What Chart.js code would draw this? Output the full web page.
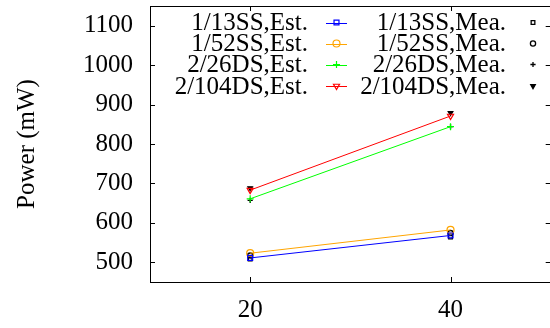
<!DOCTYPE html>
<html lang="en">

<head>
  <meta charset="UTF-8" />
  <title>Power (mW)</title>
  <script src="https://cdn.jsdelivr.net/npm/chart.js"></script>
  <style>
    html, body { margin: 0; padding: 0; background: #fff; overflow: hidden; }
    .wrap { width: 556px; height: 328px; }
  </style>
</head>

<body>
  <div class="wrap">
    <canvas id="powerChart" width="556" height="328"></canvas>
  </div>

  <script>
    // x positions and axis ticks
    const xValues = [20, 40];
    const xTicks = [20, 40];
    const yTicks = [500, 600, 700, 800, 900, 1000, 1100];

    // estimated power
    const est13SS = [511, 568];
    const est52SS = [523, 582];
    const est26DS = [661, 844];
    const est104DS = [683, 871];

    // measured power
    const mea13SS = [508, 564];
    const mea52SS = [517, 574];
    const mea26DS = [657, 844];
    const mea104DS = [688, 879];

    const FONT = "'Liberation Serif', 'Times New Roman', serif";
    const FSIZE = 25;

    function toPoints(ys) {
      return xValues.map((x, i) => ({ x: x, y: ys[i] }));
    }

    function estSet(label, ys, color, style, rot) {
      return {
        label: label,
        data: toPoints(ys),
        borderColor: color,
        backgroundColor: "rgba(0,0,0,0)",
        borderWidth: 1,
        pointStyle: style,
        rotation: rot || 0,
        pointRadius: 3.5,
        pointBorderWidth: 1.2,
        pointBorderColor: color,
        pointBackgroundColor: "rgba(0,0,0,0)",
        showLine: true,
      };
    }

    function meaSet(label, ys, style, rot, fill) {
      return {
        label: label,
        data: toPoints(ys),
        borderColor: "#000",
        backgroundColor: fill ? "#000" : "rgba(0,0,0,0)",
        pointStyle: style,
        rotation: rot || 0,
        pointRadius: 2.6,
        pointBorderWidth: 1.3,
        pointBorderColor: "#000",
        pointBackgroundColor: fill ? "#000" : "rgba(0,0,0,0)",
        showLine: false,
      };
    }

    function noPad(s) {
      s.paddingTop = 0;
      s.paddingBottom = 0;
      s.paddingLeft = 0;
      s.paddingRight = 0;
    }

    // gnuplot-like frame, inward ticks and two-column key
    const framePlugin = {
      id: "frame",
      afterDraw(chart) {
        const { ctx, chartArea: a, scales } = chart;
        ctx.save();
        ctx.strokeStyle = "#000";
        ctx.lineWidth = 1;
        ctx.strokeRect(Math.round(a.left) + 0.5, Math.round(a.top) + 0.5,
          Math.round(a.right - a.left), Math.round(a.bottom - a.top));
        ctx.beginPath();
        yTicks.forEach((v) => {
          const y = Math.round(scales.y.getPixelForValue(v)) + 0.5;
          ctx.moveTo(a.left, y); ctx.lineTo(a.left + 5, y);
          ctx.moveTo(a.right, y); ctx.lineTo(a.right - 5, y);
        });
        xTicks.forEach((v) => {
          const x = Math.round(scales.x.getPixelForValue(v)) + 0.5;
          ctx.moveTo(x, a.bottom); ctx.lineTo(x, a.bottom - 5);
          ctx.moveTo(x, a.top); ctx.lineTo(x, a.top + 5);
        });
        ctx.stroke();

        // key
        ctx.font = FSIZE + "px " + FONT;
        ctx.textAlign = "right";
        ctx.textBaseline = "middle";
        const rowY = [22.5, 43.5, 64.5, 86];
        const textRight = [308, 506];
        const sampleMid = [336.5, 533];
        chart.data.datasets.forEach((ds, i) => {
          const row = Math.floor(i / 2), col = i % 2;
          const y = rowY[row];
          ctx.fillStyle = "#000";
          ctx.fillText(ds.label, textRight[col], y + 1);
          if (ds.showLine) {
            ctx.strokeStyle = ds.borderColor;
            ctx.lineWidth = 1;
            ctx.beginPath();
            ctx.moveTo(326, Math.round(y) + 0.5);
            ctx.lineTo(347, Math.round(y) + 0.5);
            ctx.stroke();
          }
          ctx.strokeStyle = ds.pointBorderColor;
          ctx.fillStyle = ds.pointBackgroundColor;
          ctx.lineWidth = ds.pointBorderWidth;
          Chart.helpers.drawPoint(ctx, {
            pointStyle: ds.pointStyle,
            rotation: ds.rotation,
            radius: ds.pointRadius,
            borderWidth: ds.pointBorderWidth,
          }, sampleMid[col], y);
        });
        ctx.restore();
      },
    };

    const ctx = document.getElementById("powerChart").getContext("2d");
    const powerChart = new Chart(ctx, {
      type: "scatter",
      data: {
        datasets: [
          estSet("1/13SS,Est.", est13SS, "#0000ff", "rect"),
          meaSet("1/13SS,Mea.", mea13SS, "rect"),
          estSet("1/52SS,Est.", est52SS, "#ffa500", "circle"),
          meaSet("1/52SS,Mea.", mea52SS, "circle"),
          estSet("2/26DS,Est.", est26DS, "#00ff00", "cross"),
          meaSet("2/26DS,Mea.", mea26DS, "cross"),
          estSet("2/104DS,Est.", est104DS, "#ff0000", "triangle", 180),
          meaSet("2/104DS,Mea.", mea104DS, "triangle", 180, true),
        ],
      },
      options: {
        responsive: false,
        animation: false,
        layout: { padding: { top: 6, right: 2, left: 0, bottom: 0 } },
        plugins: {
          legend: { display: false },
          tooltip: { enabled: false },
        },
        scales: {
          x: {
            type: "linear",
            min: 10,
            max: 50,
            afterBuildTicks: (s) => { s.ticks = xTicks.map((v) => ({ value: v })); },
            afterFit: (s) => { s.height = 46; noPad(s); },
            grid: { display: false, drawTicks: false },
            border: { display: false },
            ticks: {
              color: "#000", font: { family: FONT, size: FSIZE }, padding: 13, maxRotation: 0,
              callback: (v) => String(v),
            },
          },
          y: {
            min: 450,
            max: 1150,
            afterBuildTicks: (s) => { s.ticks = yTicks.map((v) => ({ value: v })); },
            afterFit: (s) => { s.width = 150; noPad(s); },
            grid: { display: false, drawTicks: false },
            border: { display: false },
            ticks: {
              color: "#000", font: { family: FONT, size: FSIZE }, padding: 17,
              callback: (v) => String(v),
            },
            title: {
              display: true,
              text: "Power (mW)",
              color: "#000",
              font: { family: FONT, size: FSIZE },
              padding: { top: 12, bottom: 0 },
            },
          },
        },
      },
      plugins: [framePlugin],
    });
  </script>
</body>

</html>
